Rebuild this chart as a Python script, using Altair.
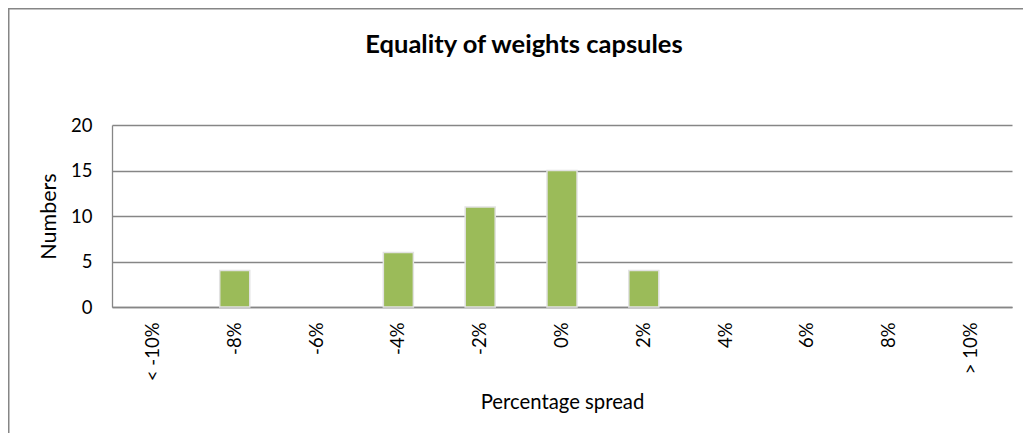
import altair as alt
import pandas as pd

categories = ["< -10%", "-8%", "-6%", "-4%", "-2%", "0%", "2%", "4%", "6%", "8%", "> 10%"]
counts = [0, 4, 0, 6, 11, 15, 4, 0, 0, 0, 0]
y_ticks = [0, 5, 10, 15, 20]
title_text = "Equality of weights capsules"
x_title = "Percentage spread"
y_title = "Numbers"

FONT = "Lato"
GRAY = "#868686"
W, H = 900, 182
PAD = {"left": 104, "top": 117, "right": 11, "bottom": 126}

df = pd.DataFrame({"cat": categories, "n": counts})

bars = alt.Chart(df).transform_filter(alt.datum.n > 0).mark_bar(
    color="#9BBB59", stroke="#e2e2e2", strokeWidth=1.5
).encode(
    x=alt.X(
        "cat:N",
        sort=categories,
        scale=alt.Scale(domain=categories, paddingInner=0.633, paddingOuter=0.3165),
        axis=alt.Axis(
            title=x_title,
            labelAngle=-90,
            labelAlign="right",
            labelBaseline="middle",
            labelPadding=15,
            ticks=False,
            tickSize=0,
            labelFont=FONT,
            labelFontSize=18.5,
            labelColor="#000000",
            titleFont=FONT,
            titleFontSize=20.3,
            titleFontWeight="normal",
            titleColor="#000000",
            titleX=W / 2,
            titleY=101,
            titleBaseline="alphabetic",
            titleAlign="center",
            domainColor=GRAY,
            domainWidth=1.3,
            grid=False,
        ),
    ),
    y=alt.Y(
        "n:Q",
        scale=alt.Scale(domain=[0, 20], nice=False),
        axis=alt.Axis(
            title=y_title,
            values=y_ticks,
            ticks=False,
            tickSize=0,
            labelPadding=20,
            labelFont=FONT,
            labelFontSize=18.5,
            labelColor="#000000",
            titleFont=FONT,
            titleFontSize=21.5,
            titleFontWeight="normal",
            titleColor="#000000",
            titleAngle=-90,
            titleX=-63,
            titleY=H / 2,
            titleAlign="center",
            titleBaseline="middle",
            domainColor=GRAY,
            domainWidth=1.3,
            grid=True,
            gridColor=GRAY,
            gridWidth=1.3,
        ),
    ),
)

title_df = pd.DataFrame({"t": [title_text]})
title = alt.Chart(title_df).mark_text(
    font=FONT, fontSize=25.5, fontWeight="bold", color="#000000",
    align="center", baseline="alphabetic",
).encode(text="t:N", x=alt.value(412), y=alt.value(-72))

border_top = alt.Chart(title_df).mark_rule(color=GRAY, strokeWidth=1.5).encode(
    x=alt.value(-PAD["left"]), x2=alt.value(W + PAD["right"]), y=alt.value(-PAD["top"] + 0.75)
)
border_left = alt.Chart(title_df).mark_rule(color=GRAY, strokeWidth=1.5).encode(
    x=alt.value(-PAD["left"] + 0.75), y=alt.value(-PAD["top"]), y2=alt.value(H + PAD["bottom"])
)

chart = alt.layer(bars, title, border_top, border_left).properties(
    width=W,
    height=H,
    padding=PAD,
    autosize=alt.AutoSizeParams(type="none"),
    background="white",
).configure_view(stroke=None)

chart.save("out.html", embed_options={"renderer": "svg", "actions": False})
